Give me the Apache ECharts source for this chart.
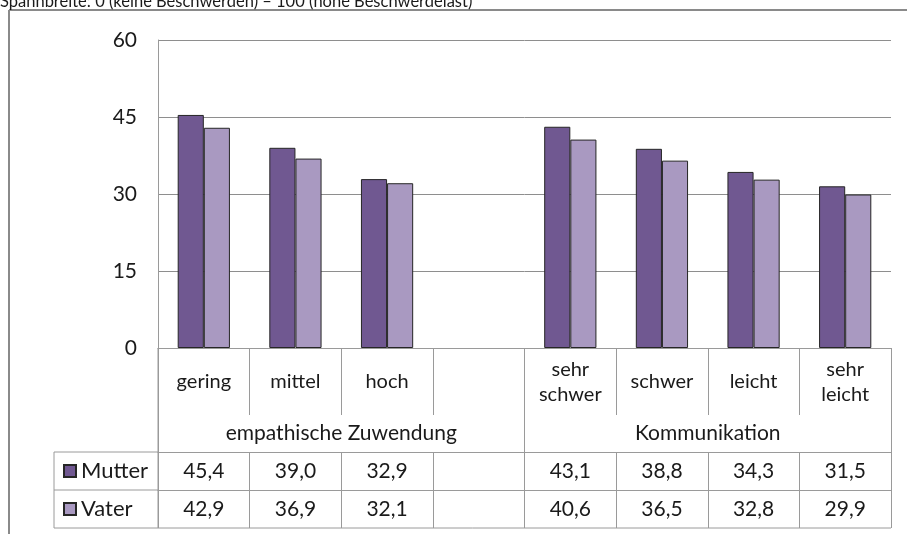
<!DOCTYPE html>
<html>
<head>
<meta charset="utf-8">
<script src="https://cdn.jsdelivr.net/npm/echarts@6/dist/echarts.min.js"></script>
<style>
  html, body { margin: 0; padding: 0; background: #fff; }
  #chart { width: 907px; height: 534px; }
</style>
</head>
<body>
<div id="chart"></div>
<script>
// categories (slot 4 is the empty gap between the two groups)
var categories = ['gering', 'mittel', 'hoch', '', 'sehr\nschwer', 'schwer', 'leicht', 'sehr\nleicht'];
var groups = ['empathische Zuwendung', 'Kommunikation'];
var mutter = [45.4, 39.0, 32.9, null, 43.1, 38.8, 34.3, 31.5];
var vater = [42.9, 36.9, 32.1, null, 40.6, 36.5, 32.8, 29.9];
var yTicks = [0, 15, 30, 45, 60];

var font = 'Lato, "Open Sans", sans-serif';
var lineGray = '#9a9a9a';
var textColor = '#1a1a1a';

// plot area
var L = 158, R = 16, T = 40, B = 186;
var W = 907, H = 534;
var x0 = L, x1 = W - R, yZero = H - B;

function fmt(v) {
  return v == null ? '' : v.toFixed(1).replace('.', ',');
}

function tableAxis(data, offset, tickLen, margin, showLine, size) {
  return {
    type: 'category',
    data: data,
    position: 'bottom',
    offset: offset,
    axisLine: { show: showLine, lineStyle: { color: lineGray, width: 1 } },
    axisTick: { show: true, length: tickLen, lineStyle: { color: lineGray, width: 1 } },
    axisLabel: {
      interval: 0,
      margin: margin,
      verticalAlign: 'middle',
      fontSize: size,
      fontFamily: font,
      color: textColor,
      lineHeight: 25
    },
    splitLine: { show: false }
  };
}

var chart = echarts.init(document.getElementById('chart'));
chart.setOption({
  animation: false,
  textStyle: { fontFamily: font },
  grid: { left: L, right: R, top: T, bottom: B },
  legend: [
    {
      data: ['Mutter'], icon: 'rect', left: 63, top: 460, padding: 0,
      itemWidth: 12, itemHeight: 12,
      textStyle: { fontSize: 22, color: textColor, fontFamily: font }
    },
    {
      data: ['Vater'], icon: 'rect', left: 63, top: 498, padding: 0,
      itemWidth: 12, itemHeight: 12,
      textStyle: { fontSize: 22, color: textColor, fontFamily: font }
    }
  ],
  xAxis: [
    tableAxis(categories, 0, 67, 34, true, 20),
    tableAxis(groups, 67, 37, 18, false, 21),
    tableAxis(mutter.map(fmt), 104, 38, 19, true, 21),
    tableAxis(vater.map(fmt), 142, 38, 19, true, 21)
  ],
  yAxis: {
    type: 'value',
    min: yTicks[0],
    max: yTicks[yTicks.length - 1],
    interval: 15,
    axisLine: { show: true, lineStyle: { color: lineGray, width: 1 } },
    axisTick: { show: false },
    axisLabel: { fontSize: 21, color: textColor, fontFamily: font, margin: 21 },
    splitLine: { lineStyle: { color: '#8e8e8e', width: 1 } }
  },
  series: [
    {
      name: 'Mutter',
      type: 'bar',
      xAxisIndex: 0,
      data: mutter,
      barGap: '0%',
      barCategoryGap: '43%',
      itemStyle: { color: '#705891', borderColor: '#262626', borderWidth: 1 }
    },
    {
      name: 'Vater',
      type: 'bar',
      xAxisIndex: 0,
      data: vater,
      itemStyle: { color: '#a999c1', borderColor: '#262626', borderWidth: 1 }
    }
  ],
  graphic: [
    // header text (clipped at the top like the reference)
    {
      type: 'text', left: 0, top: -7, z: 10,
      style: { text: 'Spannbreite: 0 (keine Beschwerden) – 100 (hohe Beschwerdelast)',
        fontSize: 16.5, fontFamily: font, fill: textColor }
    },
    // outer frame
    { type: 'line', shape: { x1: 9, y1: 10, x2: W, y2: 10 }, style: { stroke: '#8a8a8a', lineWidth: 2 } },
    { type: 'line', shape: { x1: 9, y1: 10, x2: 9, y2: H }, style: { stroke: '#8a8a8a', lineWidth: 2 } },
    // legend column of the data table
    { type: 'line', shape: { x1: 54, y1: yZero + 104, x2: x0, y2: yZero + 104 }, style: { stroke: lineGray, lineWidth: 1 } },
    { type: 'line', shape: { x1: 54, y1: yZero + 142, x2: x0, y2: yZero + 142 }, style: { stroke: lineGray, lineWidth: 1 } },
    { type: 'line', shape: { x1: 54, y1: yZero + 180, x2: x1, y2: yZero + 180 }, style: { stroke: lineGray, lineWidth: 1 } },
    { type: 'line', shape: { x1: 54, y1: yZero + 104, x2: 54, y2: yZero + 180 }, style: { stroke: lineGray, lineWidth: 1 } },
    { type: 'line', shape: { x1: x0, y1: yZero, x2: x0, y2: yZero + 180 }, style: { stroke: lineGray, lineWidth: 1 } }
  ]
});
</script>
</body>
</html>
